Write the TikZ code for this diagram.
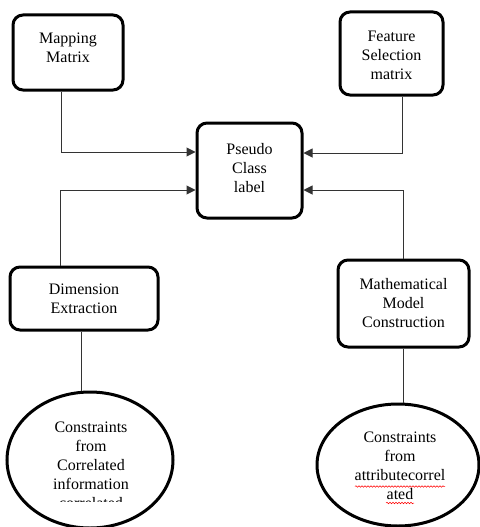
\documentclass[tikz,border=0pt]{standalone}
\usepackage{fontspec}
\setmainfont{Liberation Serif}
\usetikzlibrary{arrows.meta,shapes.geometric,decorations.pathmorphing}
\begin{document}
\begin{tikzpicture}[x=1pt,y=-1pt,
  boxnode/.style={draw=black,line width=3pt,rounded corners=10pt,inner sep=0pt},
  ellnode/.style={draw=black,line width=3pt,ellipse,inner sep=0pt},
  txt/.style={align=center,font=\fontsize{16}{19}\selectfont,inner sep=0pt},
  conn/.style={draw=black!80,line width=1pt},
  arr/.style={conn,-{Triangle[length=9pt,width=9pt]}},
  squig/.style={draw=red,line width=0.5pt,decorate,decoration={snake,amplitude=0.8pt,segment length=3pt}}]
\useasboundingbox (0,0) rectangle (479,527);
% boxes
\node[boxnode,minimum width=110pt,minimum height=75pt] (map) at (68,52.5) {};
\node[txt] (maptxt) at (68,48) {Mapping\\Matrix};
\node[boxnode,minimum width=103pt,minimum height=83pt] (feat) at (391.5,53.5) {};
\node[txt] (feattxt) at (391.5,55) {Feature\\Selection\\matrix};
\node[boxnode,minimum width=105pt,minimum height=95pt] (pseudo) at (249.5,170.5) {};
\node[txt] (pseudotxt) at (249.5,168) {Pseudo\\Class\\label};
\node[boxnode,minimum width=148pt,minimum height=63pt] (dim) at (84,298.5) {};
\node[txt] (dimtxt) at (84,299) {Dimension\\Extraction};
\node[boxnode,minimum width=131pt,minimum height=87pt] (math) at (403.5,303.5) {};
\node[txt] (mathtxt) at (403.5,303) {Mathematical\\Model\\Construction};
% ellipses
\node[ellnode,minimum width=166pt,minimum height=136pt] (ell1) at (90,460) {};
\begin{scope}
\clip (0,0) rectangle (479,501);
\node[txt] (ell1txt) at (91,465) {Constraints\\from\\Correlated\\information\\correlated};
\end{scope}
\node[ellnode,minimum width=162pt,minimum height=122pt] (ell2) at (398,465) {};
\node[txt] (ell2txt) at (400,466) {Constraints\\from\\attributecorrel\\ated};
\draw[squig] (355,486.5) -- (445,486.5);
\draw[squig] (386,503) -- (414,503);
% connectors
\draw[arr] (61,0 |- map.south) |- (pseudo.west |- 0,152);
\draw[arr] (60,0 |- dim.north) |- (pseudo.west |- 0,190);
\draw[arr] (402,0 |- feat.south) |- (pseudo.east |- 0,153);
\draw[arr] (403,0 |- math.north) |- (pseudo.east |- 0,190);
\draw[conn] (81,0 |- dim.south) -- (81,0 |- ell1.north);
\draw[conn] (403,0 |- math.south) -- (403,0 |- ell2.north);
\end{tikzpicture}
\end{document}
